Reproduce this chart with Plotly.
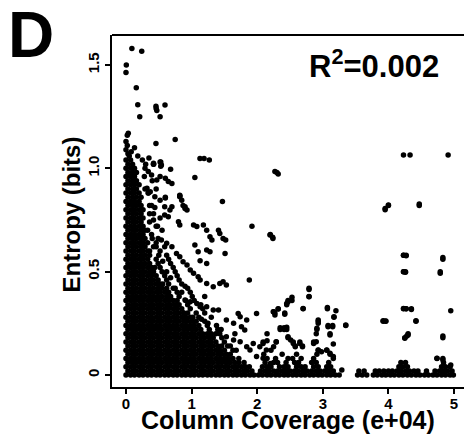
import plotly.graph_objects as go

# ---------------- data (x in units of 1e4 columns, y = entropy in bits) ----------------
# Dense core, read row by row (entropy level, column-coverage values seen at that level)
core_rows = [
    (0.00, [0,.07,.13,.2,.26,.33,.39,.46,.52,.59,.65,.72,.78,.85,.91,.98,1.04,1.11,1.17,1.24,1.3,1.37,1.43,1.5,1.56,1.63,1.69,1.76,1.82,1.89,1.95,2.02,2.08,2.15,2.21,2.28,2.34,2.41,2.47,2.54,2.6,2.67,2.73,2.8,2.86,2.93,2.99,3.06,3.12,3.19,3.25,3.53,3.6,3.67,3.77,3.83,3.9,3.96,4.03,4.09,4.16,4.22,4.29,4.35,4.42,4.48,4.55,4.61,4.68,4.74,4.81,4.87,4.94,4.99]),
    (0.02, [.03,.1,.16,.23,.29,.36,.42,.49,.55,.62,.68,.75,.81,.88,.94,1.01,1.07,1.14,1.2,1.27,1.33,1.4,1.46,1.53,1.59,1.66,1.72,1.79,1.85,1.92,2.05,2.12,2.18,2.25,2.31,2.38,2.44,2.5,2.57,2.63,2.7,2.76,2.83,2.9,2.96,3.03,3.09,3.16,3.55,3.63,3.8,3.86,3.93,4.0,4.06,4.13,4.19,4.26,4.32,4.39,4.45,4.58,4.71,4.78,4.84,4.9,4.97]),
    (0.04, [0,.07,.13,.2,.26,.33,.39,.46,.52,.59,.65,.72,.78,.85,.91,.98,1.04,1.11,1.17,1.24,1.3,1.37,1.43,1.5,1.56,1.63,1.69,1.76,1.82,2.08,2.15,2.21,2.34,2.41,2.47,2.6,2.67,2.73,2.86,2.93,3.06,3.12,4.16,4.22,4.29,4.81,4.87,4.94]),
    (0.06, [.03,.1,.16,.23,.29,.36,.42,.49,.55,.62,.68,.75,.81,.88,.94,1.01,1.07,1.14,1.2,1.27,1.33,1.4,1.46,1.53,1.59,1.66,1.72,2.12,2.25,2.31,2.44,2.57,2.63,2.83,2.9,3.09,4.19,4.26,4.84]),
    (0.08, [0,.07,.13,.2,.26,.33,.39,.46,.52,.59,.65,.72,.78,.85,.91,.98,1.04,1.11,1.17,1.24,1.3,1.37,1.43,1.5,1.56,1.63,2.15,2.28,2.47,2.54,2.67,2.86,3.16,4.74,4.83]),
    (0.10, [.03,.1,.16,.23,.29,.36,.42,.49,.55,.62,.68,.75,.81,.88,.94,1.01,1.07,1.14,1.2,1.27,1.33,1.4,1.46,1.53,1.59,2.1,2.38,2.6,2.91,3.11]),
    (0.12, [0,.07,.13,.2,.26,.33,.39,.46,.52,.59,.65,.72,.78,.85,.91,.98,1.04,1.11,1.17,1.24,1.3,1.37,1.43,1.5,1.63,2.21,2.93,3.06]),
    (0.14, [.03,.1,.16,.23,.29,.36,.42,.49,.55,.62,.68,.75,.81,.88,.94,1.01,1.07,1.14,1.2,1.27,1.33,1.4,1.46,1.59,2.58,2.69]),
    (0.16, [0,.07,.13,.2,.26,.33,.39,.46,.52,.59,.65,.72,.78,.85,.91,.98,1.04,1.11,1.17,1.24,1.3,1.37,1.5,2.09,2.29,2.55,2.65,2.86]),
    (0.18, [.03,.1,.16,.23,.29,.36,.42,.49,.55,.62,.68,.75,.81,.88,.94,1.01,1.07,1.14,1.2,1.27,1.33,1.46,2.47,4.25,4.83]),
    (0.20, [0,.07,.13,.2,.26,.33,.39,.46,.52,.59,.65,.72,.78,.85,.91,.98,1.04,1.11,1.17,1.24,1.37,2.15,2.9,3.11,4.3]),
    (0.22, [.03,.1,.16,.23,.29,.36,.42,.49,.55,.62,.68,.75,.81,.88,.94,1.01,1.07,1.14,1.27,1.4,2.35,2.41,2.45,2.91]),
    (0.24, [0,.07,.13,.2,.26,.33,.39,.46,.52,.59,.65,.72,.78,.85,.91,.98,1.04,1.11,1.24,3.08,3.15,3.35]),
    (0.26, [.03,.1,.16,.23,.29,.36,.42,.49,.55,.62,.68,.75,.81,.88,.94,1.01,1.07,1.2,2.93,3.92,3.96,4.42]),
    (0.28, [0,.07,.13,.2,.26,.33,.39,.46,.52,.59,.65,.72,.78,.85,.91,.98,1.11,1.3,3.17]),
    (0.30, [.03,.1,.16,.23,.29,.36,.42,.49,.55,.62,.68,.75,.81,.88,.94,1.07,1.2,2.27,2.42]),
    (0.32, [0,.07,.13,.2,.26,.33,.39,.46,.52,.59,.65,.72,.78,.85,.98,1.17,2.32,2.7,3.07,4.23,4.27,4.35]),
    (0.34, [.03,.1,.16,.23,.29,.36,.42,.49,.55,.62,.68,.75,.81,.94,1.14,2.45]),
    (0.36, [0,.07,.13,.2,.26,.33,.39,.46,.52,.59,.65,.72,.78,.91,1.04,2.47,2.53]),
    (0.38, [.03,.1,.16,.23,.29,.36,.42,.49,.55,.62,.68,.81,1.01,1.2,2.79]),
    (0.40, [0,.07,.13,.2,.26,.33,.39,.46,.52,.59,.65,.78,.98]),
    (0.42, [.03,.1,.16,.23,.29,.36,.42,.49,.55,.62,.75,.94,2.79]),
    (0.44, [0,.07,.13,.2,.26,.33,.39,.46,.52,.65,.85]),
    (0.46, [.03,.1,.16,.23,.29,.36,.42,.49,.62,.81,1.88]),
    (0.48, [0,.07,.13,.2,.26,.33,.39,.46,.59,.78]),
    (0.50, [.03,.1,.16,.23,.29,.36,.42,.55,.75,4.23,4.26,4.79]),
    (0.52, [0,.07,.13,.2,.26,.33,.39,.52,.72]),
    (0.54, [.03,.1,.16,.23,.29,.36,.49,.68]),
    (0.56, [0,.07,.13,.2,.26,.33,.46,.65,4.83]),
    (0.58, [.03,.1,.16,.23,.29,.36,.62,4.23,4.27]),
    (0.60, [0,.07,.13,.2,.26,.33,.52]),
    (0.62, [.03,.1,.16,.23,.29,.42,.59]),
    (0.64, [0,.07,.13,.2,.26,.33,.46]),
    (0.66, [.03,.1,.16,.23,.29,.49,2.24]),
    (0.68, [0,.07,.13,.2,.26,.39,2.2]),
    (0.70, [.03,.1,.16,.23,.29,.55]),
    (0.72, [0,.07,.13,.2,.26,.46,1.92]),
    (0.74, [.03,.1,.16,.23,.36]),
    (0.76, [0,.07,.13,.2,.26,.52]),
    (0.78, [.03,.1,.16,.23,.42]),
    (0.80, [0,.07,.13,.2,.26,3.95]),
    (0.82, [.03,.1,.16,.23,.36,4.0,4.47]),
    (0.84, [0,.07,.13,.2,1.47]),
    (0.86, [.03,.1,.16,.23,.6]),
    (0.88, [0,.07,.13,.2,.34]),
    (0.90, [.03,.1,.16,.29]),
    (0.92, [0,.07,.13,.2]),
    (0.94, [.03,.1,.16]),
    (0.96, [0,.07,.13]),
    (0.98, [.03,.1,.16,2.3]),
    (1.00, [0,.07,.13]),
    (1.02, [.03,.1,.42]),
    (1.04, [0,.07]),
]

# Sparse points (read individually)
sparse_x = [0.09,0.24,0.005,0.0,0.157,0.18,0.457,0.46,0.47,0.595,0.21,0.52,0.035,0.75,0.457,0.13,
            1.128,1.19,1.27,2.27,2.32,1.05,0.68,0.53,0.53,0.42,0.30,0.82,0.6,0.34,
            4.23,4.33,4.91,3.95,4.0,4.47,2.195,2.236,4.23,4.27,4.83,4.23,4.26,4.79,
            2.79,2.79,2.53,2.47,2.45,2.70,2.32,2.245,2.27,2.42,3.07,3.20,3.17,4.23,4.27,4.35,4.95,
            3.92,3.96,4.42,2.93,2.93,3.35,3.08,3.15,2.91,2.35,2.41,2.45,3.11,4.25,4.28,4.30,4.83,
            3.16,2.09,2.15,2.29,2.47,2.51,2.55,2.58,2.65,2.69,2.86,2.90,2.93,2.98,3.06,3.11,3.16,
            4.74,4.83,4.95,3.29]
sparse_y = [1.58,1.566,1.50,1.464,1.39,1.307,1.30,1.29,1.28,1.306,1.25,1.25,1.17,1.14,1.12,1.10,
            1.048,1.048,1.04,0.984,0.972,0.955,0.995,1.03,1.01,1.02,1.02,0.87,0.856,0.88,
            1.064,1.064,1.064,0.806,0.822,0.827,0.677,0.666,0.58,0.577,0.568,0.50,0.497,0.492,
            0.414,0.379,0.376,0.355,0.346,0.322,0.319,0.306,0.29,0.294,0.327,0.311,0.282,0.322,0.321,0.317,0.311,
            0.263,0.261,0.263,0.266,0.25,0.242,0.234,0.234,0.226,0.229,0.229,0.231,0.194,0.178,0.189,0.194,0.189,
            0.15,0.153,0.166,0.161,0.185,0.169,0.153,0.137,0.153,0.137,0.153,0.161,0.121,0.113,0.121,0.105,0.089,
            0.081,0.073,0.048,0.024]

mid_x = [.82,.39,.44,.70,.87,.90,.59,.645,.80,.82,1.03,1.08,1.18,1.23,1.41,1.43,1.48,1.52,1.28,1.31,
         1.05,1.10,1.23,1.28,1.51,1.13,1.23,.54,.62,.70,.77,.82,.87,.93,.98,1.03,1.10,1.13,1.23,1.33,
         1.43,1.48,1.53,.90,.98,1.08,1.13,1.23,1.33,1.41,1.53,1.64,1.71,1.74,1.76,1.84,1.81,1.43,1.53,1.64,
         1.74,1.84,1.94,2.04,2.14,2.25,1.99,2.25,1.89,1.99,2.09,2.2,
         .42,.52,.54,.29,.34,.39,.47,.52,.6,.645,.70,.32,.37,.44,.52,.59,.67,.82,.85,.9,.93,
         0.02,0.0,0.02,0.0,0.03,0.05,0.08,
         .36,.42,.48,.33,.40,.46,.36,.50,.56,.44,.62,.68,.56,.72,.85,.9,.66,.88,1.02,1.15,1.25,1.38,1.45,
         1.30,1.55,1.68,1.72,1.80,1.88,1.66,.4,.46,.28,.25,.18,.35]
mid_y = [.866,.82,.81,.814,.82,.806,.774,.766,.742,.726,.726,.718,.726,.70,.70,.685,.66,.653,.669,.653,
         .629,.596,.605,.596,.588,.553,.54,.653,.637,.621,.588,.572,.548,.532,.508,.492,.476,.46,.443,.427,
         .443,.451,.435,.363,.355,.346,.33,.33,.315,.315,.266,.25,.298,.282,.234,.266,.218,.2,.185,.169,
         .161,.137,.153,.137,.121,.137,.298,.306,.121,.089,.081,.056,
         1.024,1.03,1.016,1.0,.984,.968,.944,.96,.952,.936,.927,.903,.887,.862,.846,.814,.798,.862,.846,.814,.798,
         1.16,1.13,1.11,1.09,1.07,1.06,1.08,
         .78,.75,.72,.70,.66,.62,.60,.58,.55,.52,.50,.47,.44,.42,.40,.43,.38,.30,.28,.27,.25,.24,.22,
         .20,.14,.12,.08,.06,.04,.2,.94,.9,.96,1.04,1.06,1.05]

x_ticks = [0, 1, 2, 3, 4, 5]
x_ticklabels = ["0", "1", "2", "3", "4", "5"]
y_ticks = [0, 0.5, 1.0, 1.5]
y_ticklabels = ["0", "0.5", "1.0", "1.5"]
r2_label = "R<sup>2</sup>=0.002"
panel_label = "D"
x_title = "Column Coverage (e+04)"
y_title = "Entropy (bits)"

# ---------------- assemble ----------------
xs, ys = [], []
for yv, row in core_rows:
    xs.extend(row)
    ys.extend([yv] * len(row))
xs += sparse_x + mid_x
ys += sparse_y + mid_y

FONT = "Liberation Sans, Arial, Helvetica, sans-serif"

fig = go.Figure(go.Scatter(
    x=xs, y=ys, mode="markers",
    marker=dict(color="black", size=5.5, line=dict(width=0)),
    hoverinfo="skip", cliponaxis=False,
))

axis_common = dict(
    showgrid=False, zeroline=False, showline=True, linecolor="black", linewidth=2,
    ticks="outside", ticklen=5, tickwidth=1.5, tickcolor="black",
    tickfont=dict(family=FONT, size=15, color="black", weight="bold"),
)
fig.update_xaxes(range=[-0.213, 5.152], tickvals=x_ticks, ticktext=x_ticklabels,
                 ticklabelstandoff=-3, **axis_common)
fig.update_yaxes(range=[-0.058, 1.645], tickvals=y_ticks, ticktext=y_ticklabels, tickangle=-90,
                 **axis_common)

fig.update_layout(
    width=464, height=434,
    margin=dict(l=112, r=0, t=35, b=47),
    plot_bgcolor="white", paper_bgcolor="white", showlegend=False,
    shapes=[dict(type="line", xref="paper", yref="paper", x0=0, x1=1, y0=1, y1=1,
                 line=dict(color="black", width=2))],
    annotations=[
        dict(text=f"<b>{x_title}</b>", xref="paper", yref="paper", x=0.5, y=-0.093,
             xanchor="center", yanchor="middle", showarrow=False,
             font=dict(family=FONT, size=25, color="black")),
        dict(text=f"<b>{y_title}</b>", xref="paper", yref="paper", x=-0.1136, y=0.49,
             xanchor="center", yanchor="middle", textangle=-90, showarrow=False,
             font=dict(family=FONT, size=24, color="black")),
        dict(text=f"<b>{panel_label}</b>", xref="paper", yref="paper", x=-0.2287, y=0.9986,
             xanchor="center", yanchor="middle", showarrow=False,
             font=dict(family=FONT, size=64, color="black")),
        dict(text=f"<b>{r2_label}</b>", xref="paper", yref="paper", x=0.7457, y=0.919,
             xanchor="center", yanchor="middle", showarrow=False,
             font=dict(family=FONT, size=31, color="black")),
    ],
)

fig.write_html("out.html", config={"displayModeBar": False},
               post_script="document.body.style.margin='0';document.body.style.overflow='hidden';")
